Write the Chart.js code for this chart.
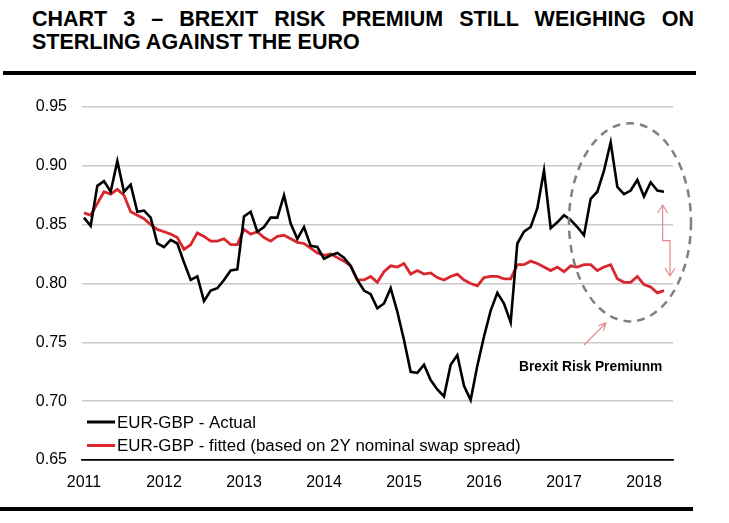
<!DOCTYPE html>
<html>
<head>
<meta charset="utf-8">
<script src="https://cdn.jsdelivr.net/npm/chart.js@4.4.1/dist/chart.umd.min.js"></script>
<style>
  html, body { margin: 0; padding: 0; background: #fff; }
  #wrap { position: relative; width: 729px; height: 523px; overflow: hidden; }
  #titulo {
    position: absolute; left: 32px; top: 8px; width: 662px;
    font-family: "Liberation Sans", Arial, sans-serif; font-weight: bold;
    font-size: 21.5px; line-height: 22.6px; color: #000;
    text-align: justify; text-align-last: left;
  }
  .regla { position: absolute; background: #000; }
  canvas { position: absolute; left: 0; top: 0; }
</style>
</head>
<body>
<div id="wrap">
  <div id="titulo">CHART 3 – BREXIT RISK PREMIUM STILL WEIGHING ON STERLING AGAINST THE EURO</div>
  <div class="regla" style="left:3px; top:71px; width:693px; height:4px;"></div>
  <div class="regla" style="left:0px; top:507px; width:693px; height:4px;"></div>
  <canvas id="grafico" width="729" height="523"></canvas>
</div>
<script>
// Datos mensuales desde enero 2011
const anios = ['2011', '2012', '2013', '2014', '2015', '2016', '2017', '2018'];
const yTicks = [0.65, 0.70, 0.75, 0.80, 0.85, 0.90, 0.95];

const actual = [
  0.856, 0.849, 0.883, 0.887, 0.878, 0.904, 0.878, 0.884, 0.861, 0.862, 0.856, 0.834,
  0.831, 0.837, 0.834, 0.818, 0.803, 0.806, 0.785, 0.794, 0.796, 0.803, 0.811, 0.812,
  0.857, 0.861, 0.844, 0.848, 0.856, 0.856, 0.875, 0.851, 0.838, 0.848, 0.832, 0.831,
  0.821, 0.824, 0.826, 0.822, 0.815, 0.803, 0.794, 0.791, 0.779, 0.783, 0.796, 0.776,
  0.752, 0.725, 0.724, 0.731, 0.718, 0.710, 0.704, 0.731, 0.739, 0.713, 0.701, 0.730,
  0.755, 0.777, 0.792, 0.783, 0.767, 0.834, 0.844, 0.848, 0.864, 0.896, 0.847, 0.852,
  0.858, 0.854, 0.848, 0.841, 0.872, 0.878, 0.896, 0.920, 0.882, 0.876, 0.879, 0.888,
  0.874, 0.886, 0.879, 0.878
];

const fitted = [
  0.860, 0.858, 0.868, 0.878, 0.876, 0.880, 0.875, 0.861, 0.858, 0.855, 0.850, 0.846,
  0.844, 0.842, 0.839, 0.829, 0.833, 0.843, 0.840, 0.836, 0.836, 0.838, 0.833, 0.833,
  0.846, 0.842, 0.844, 0.839, 0.836, 0.840, 0.841, 0.838, 0.835, 0.834, 0.830, 0.826,
  0.824, 0.825, 0.822, 0.819, 0.815, 0.803, 0.803, 0.806, 0.801, 0.810, 0.815, 0.814,
  0.817, 0.808, 0.811, 0.808, 0.809, 0.805, 0.803, 0.806, 0.808, 0.803, 0.800, 0.798,
  0.805, 0.806, 0.806, 0.804, 0.804, 0.816, 0.816, 0.819, 0.817, 0.814, 0.811, 0.814,
  0.810, 0.815, 0.814, 0.816, 0.816, 0.811, 0.814, 0.816, 0.804, 0.801, 0.801, 0.806,
  0.799, 0.797, 0.792, 0.794
];

const etiquetas = ['EUR-GBP - Actual', 'EUR-GBP - fitted (based on 2Y nominal swap spread)'];
const colores = ['#000000', '#d9272e'];
const textoPrima = 'Brexit Risk Premiunm';

const FUENTE = '"Liberation Sans", Arial, sans-serif';

// Leyenda y anotaciones dibujadas sobre el area del grafico
const extras = {
  id: 'extras',
  afterDatasetsDraw(chart) {
    const { ctx, chartArea, scales } = chart;
    const px = v => scales.x.getPixelForValue(v);
    const py = v => scales.y.getPixelForValue(v);
    ctx.save();

    // leyenda
    ctx.font = '16.9px ' + FUENTE;
    ctx.textBaseline = 'middle';
    etiquetas.forEach((t, i) => {
      const y = chartArea.bottom - 38 + i * 23.5;
      ctx.strokeStyle = colores[i];
      ctx.lineWidth = 3;
      ctx.beginPath();
      ctx.moveTo(chartArea.left + 5, y);
      ctx.lineTo(chartArea.left + 33, y);
      ctx.stroke();
      ctx.fillStyle = '#000';
      ctx.fillText(t, chartArea.left + 35, y + 1);
    });

    // elipse punteada
    const cx = px(81.9), cy = py(0.852);
    const rx = px(81.9 + 9.15) - cx, ry = py(0.852 - 0.0842) - cy;
    ctx.strokeStyle = '#808080';
    ctx.lineWidth = 2.5;
    ctx.setLineDash([8, 6]);
    ctx.beginPath();
    ctx.ellipse(cx, cy, rx, ry, 0, 0, Math.PI * 2);
    ctx.stroke();
    ctx.setLineDash([]);

    // flecha doble con escalon
    ctx.strokeStyle = '#e58a8c';
    ctx.lineWidth = 1.2;
    const x1 = px(86.8), x2 = px(87.9);
    const yTop = py(0.8667), yMid = py(0.8364), yBot = py(0.8064);
    ctx.beginPath();
    ctx.moveTo(x1, yTop);
    ctx.lineTo(x1, yMid);
    ctx.lineTo(x2, yMid);
    ctx.lineTo(x2, yBot);
    ctx.moveTo(x1 - 5, yTop + 8); ctx.lineTo(x1, yTop); ctx.lineTo(x1 + 5, yTop + 8);
    ctx.moveTo(x2 - 5, yBot - 8); ctx.lineTo(x2, yBot); ctx.lineTo(x2 + 5, yBot - 8);
    ctx.stroke();

    // flecha pequeña
    const ax = px(75), ay = py(0.7477), bx = px(78.3), by = py(0.7664);
    const ang = Math.atan2(by - ay, bx - ax);
    ctx.beginPath();
    ctx.moveTo(ax, ay);
    ctx.lineTo(bx, by);
    ctx.moveTo(bx - 8 * Math.cos(ang - 0.45), by - 8 * Math.sin(ang - 0.45));
    ctx.lineTo(bx, by);
    ctx.lineTo(bx - 8 * Math.cos(ang + 0.45), by - 8 * Math.sin(ang + 0.45));
    ctx.stroke();

    // texto
    ctx.fillStyle = '#000';
    ctx.font = 'bold 13.8px ' + FUENTE;
    ctx.textBaseline = 'middle';
    ctx.fillText(textoPrima, px(65.25), py(0.729));
    ctx.restore();
  }
};

document.addEventListener('DOMContentLoaded', () => {
  const ctx = document.getElementById('grafico').getContext('2d');
  new Chart(ctx, {
    type: 'line',
    data: {
      datasets: [
        { label: etiquetas[0], data: actual.map((v, i) => ({ x: i, y: v })), borderColor: colores[0], borderWidth: 2.6 },
        { label: etiquetas[1], data: fitted.map((v, i) => ({ x: i, y: v })), borderColor: colores[1], borderWidth: 2.8 }
      ]
    },
    options: {
      responsive: false,
      animation: false,
      devicePixelRatio: 1,
      elements: { point: { radius: 0 }, line: { tension: 0 } },
      layout: { padding: { left: 0, top: 107, right: 56, bottom: 0 } },
      plugins: { legend: { display: false }, tooltip: { enabled: false } },
      scales: {
        x: {
          type: 'linear', min: -0.3, max: 88.35,
          afterBuildTicks: s => { s.ticks = anios.map((a, i) => ({ value: i * 12 })); },
          afterFit: s => { s.height = 63; },
          grid: { display: false, drawTicks: false },
          border: { display: true, color: '#000', width: 1.5 },
          ticks: {
            padding: 13, color: '#000', maxRotation: 0, autoSkip: false,
            font: { family: FUENTE, size: 16 },
            callback: v => anios[Math.round(v / 12)]
          }
        },
        y: {
          min: 0.65, max: 0.95,
          afterBuildTicks: s => { s.ticks = yTicks.map(v => ({ value: v })); },
          afterFit: s => { s.width = 82; },
          grid: { drawTicks: false, color: c => (c.tick && c.tick.value <= 0.651 ? '#000' : '#c9c9c9'), lineWidth: 1.6 },
          border: { display: false },
          ticks: {
            padding: 15, color: '#000',
            font: { family: FUENTE, size: 16 },
            callback: v => v.toFixed(2)
          }
        }
      }
    },
    plugins: [extras]
  });
});
</script>
</body>
</html>
